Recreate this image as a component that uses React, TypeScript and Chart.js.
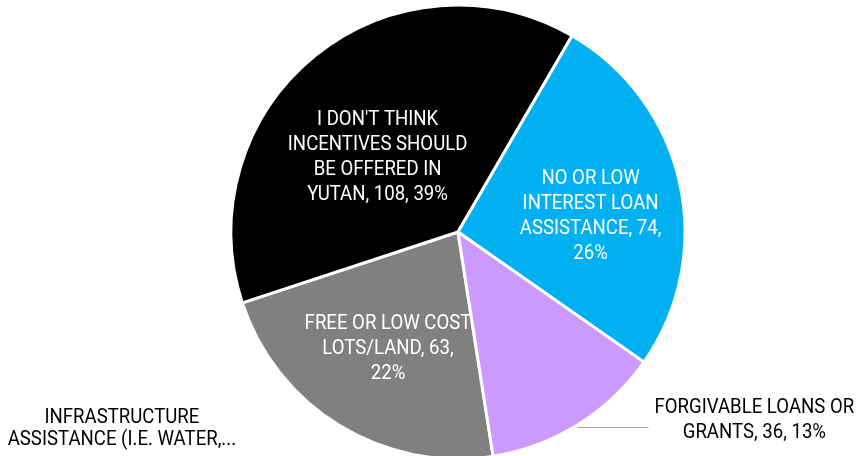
import React, { useEffect, useRef } from "react";
import { Chart, registerables } from "chart.js";

Chart.register(...registerables);

// ---- data ----
const categories = [
  "Free or low cost lots/land",
  "I don't think incentives should be offered in Yutan",
  "No or low interest loan assistance",
  "Forgivable loans or grants",
  "Infrastructure assistance (i.e. water,...",
];
const values = [63, 108, 74, 36, 0];
const percents = [22, 39, 26, 13, 0];

// ---- styles ----
const colors = ["#808080", "#000000", "#00B0F0", "#CC99FF", "#A5A5A5"];
const SCALE_X = 0.93;
const FONT = "20px Roboto";
const CAP = 14.2;
// inside: r = fraction of radius, dA = angle nudge (deg); outside: offset from slice edge point
const placements: any[] = [
  { kind: "in", r: 0.595, dA: 0, maxWidth: 167, lineH: 25, color: "#FFFFFF" },
  { kind: "in", r: 0.493, dA: -7.3, maxWidth: 186, lineH: 25, color: "#FFFFFF" },
  { kind: "in", r: 0.593, dA: 4.9, maxWidth: 150, lineH: 25, color: "#FFFFFF" },
  { kind: "out", dx: 177, dy: -5, maxWidth: 206, lineH: 25, color: "#000000", leader: true },
  { kind: "out", dx: -371, dy: -28, maxWidth: 232, lineH: 22, color: "#000000", leader: false },
];

function wrap(ctx: CanvasRenderingContext2D, text: string, maxW: number): string[] {
  const words = text.split(" ");
  const lines: string[] = [];
  let cur = "";
  for (const w of words) {
    const test = cur ? cur + " " + w : w;
    if (cur && ctx.measureText(test).width > maxW) {
      lines.push(cur);
      cur = w;
    } else cur = test;
  }
  if (cur) lines.push(cur);
  return lines;
}

const labelPlugin = {
  id: "sliceLabels",
  afterDatasetsDraw(chart: any) {
    const ctx: CanvasRenderingContext2D = chart.ctx;
    const meta = chart.getDatasetMeta(0);
    meta.data.forEach((arc: any, i: number) => {
      const p = placements[i];
      const { x, y, startAngle, endAngle, outerRadius } = arc.getProps(
        ["x", "y", "startAngle", "endAngle", "outerRadius"],
        true
      );
      const R = outerRadius - 1.5;
      const mid = (startAngle + endAngle) / 2;
      const text =
        values[i] > 0
          ? `${categories[i].toUpperCase()}, ${values[i]}, ${percents[i]}%`
          : categories[i].toUpperCase();
      ctx.save();
      ctx.font = FONT;
      const lines = wrap(ctx, text, p.maxWidth / SCALE_X);
      let cx: number, cy: number;
      if (p.kind === "in") {
        const a = mid + (p.dA * Math.PI) / 180;
        cx = x + p.r * R * Math.cos(a);
        cy = y + p.r * R * Math.sin(a);
      } else {
        cx = x + R * Math.cos(mid) + p.dx;
        cy = y + R * Math.sin(mid) + p.dy;
      }
      const widest = Math.max(...lines.map((l) => ctx.measureText(l).width)) * SCALE_X;
      if (p.leader) {
        const ly = cy + 8.5;
        const edgeX = x + Math.sqrt(Math.max(R * R - (ly - y) * (ly - y), 0)) + 6;
        ctx.strokeStyle = "#A6A6A6";
        ctx.lineWidth = 1;
        ctx.beginPath();
        ctx.moveTo(edgeX, Math.round(ly) + 0.5);
        ctx.lineTo(cx - widest / 2 - 6, Math.round(ly) + 0.5);
        ctx.stroke();
      }
      ctx.fillStyle = p.color;
      ctx.textAlign = "center";
      ctx.textBaseline = "alphabetic";
      const top = cy - ((lines.length - 1) * p.lineH) / 2;
      lines.forEach((l, k) => {
        ctx.save();
        ctx.translate(cx, top + k * p.lineH + CAP / 2);
        ctx.scale(SCALE_X, 1);
        ctx.fillText(l, 0, 0);
        ctx.restore();
      });
      ctx.restore();
    });
  },
};

export default function App() {
  const ref = useRef<HTMLCanvasElement>(null);
  useEffect(() => {
    document.body.style.margin = "0";
    if (!ref.current) return;
    const chart = new Chart(ref.current, {
      type: "pie",
      data: {
        labels: categories,
        datasets: [
          {
            data: values,
            backgroundColor: colors,
            borderColor: "#FFFFFF",
            borderWidth: 3,
          },
        ],
      },
      options: {
        animation: false,
        responsive: false,
        rotation: 171.1,
        radius: 227,
        layout: { padding: { left: 58, top: 8, right: 0, bottom: 0 } },
        plugins: { legend: { display: false }, tooltip: { enabled: false } },
      } as any,
      plugins: [labelPlugin],
    });
    return () => chart.destroy();
  }, []);
  return (
    <div style={{ width: 858, height: 456 }}>
      <canvas ref={ref} width={858} height={456} style={{ display: "block" }} />
    </div>
  );
}
